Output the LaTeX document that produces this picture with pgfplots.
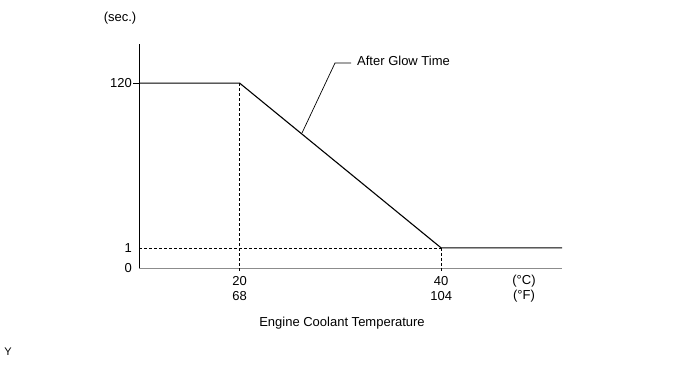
\documentclass[border=0pt]{standalone}
\usepackage{pgfplots}
\pgfplotsset{compat=1.18}
\usepackage{fontspec}
\setmainfont{Liberation Sans}
\newcommand\ytrafo[1]{\begingroup\pgfkeys{/pgf/fpu=true,/pgf/fpu/output format=fixed}%
  \pgfmathparse{(#1<=1) ? (20*#1) : (20+(#1-1)*164/119)}%
  \global\let\mytmpres\pgfmathresult\endgroup\let\pgfmathresult\mytmpres}
\newcommand\yinvtrafo[1]{\begingroup\pgfkeys{/pgf/fpu=true,/pgf/fpu/output format=fixed}%
  \pgfmathparse{(#1<=20) ? (#1/20) : (1+(#1-20)*119/164)}%
  \global\let\mytmpres\pgfmathresult\endgroup\let\pgfmathresult\mytmpres}
\begin{document}
\fontsize{13}{15}\selectfont
\begin{tikzpicture}[font=\fontsize{13}{15}\selectfont]
\useasboundingbox (0,0) rectangle (690pt,369pt);
\begin{axis}[
  at={(139pt,101pt)}, anchor=south west,
  scale only axis, width=423pt, height=224pt,
  xmin=10, xmax=52, ymin=0, ymax=148.3,
  y coord trafo/.code={\ytrafo{#1}},
  y coord inv trafo/.code={\yinvtrafo{#1}},
  axis x line=bottom, axis y line=left, axis line style={-},
  x axis line style={black!45, line width=0.8pt},
  y axis line style={black, line width=0.8pt},
  xtick={20,40}, xticklabels={{20\\68},{40\\104}},
  xticklabel style={align=center, inner sep=0pt, yshift=-8pt},
  ytick={0,1}, yticklabels={0,1},
  yticklabel style={inner sep=0pt, xshift=-7pt},
  major tick length=0pt,
  extra y ticks={120}, extra y tick labels={120},
  extra y tick style={major tick length=6pt, tick align=outside,
     tick style={black, line width=0.9pt}, yticklabel style={xshift=6pt}},
  clip=false,
  /pgf/number format/assume math mode=true,
  tick label style={font=\fontsize{13}{15}\selectfont},
]
\addplot[black, line width=1.1pt] coordinates {(10,120) (20,120) (40,1) (52,1)};
\addplot[black, line width=0.6pt, dash pattern=on 3pt off 2pt] coordinates {(20,120) (20,-0.2)};
\addplot[black, line width=0.6pt, dash pattern=on 3pt off 2pt] coordinates {(40,1) (40,-0.2)};
\addplot[black, line width=0.6pt, dash pattern=on 3pt off 2pt] coordinates {(10,1) (40,1)};
\end{axis}
\node at (120pt,351pt) {(sec.)};
\node[align=center] at (524pt,80pt) {(°C)\\(°F)};
\node at (342pt,46pt) {Engine Coolant Temperature};
\node[font=\fontsize{11}{13}\selectfont] at (8pt,17pt) {Y};
\node[anchor=west, inner sep=0pt] at (357pt,308pt) {After Glow Time};
\draw[black, line width=0.7pt] (302pt,236pt) -- (335pt,306pt) -- (351pt,306pt);
\end{tikzpicture}
\end{document}
